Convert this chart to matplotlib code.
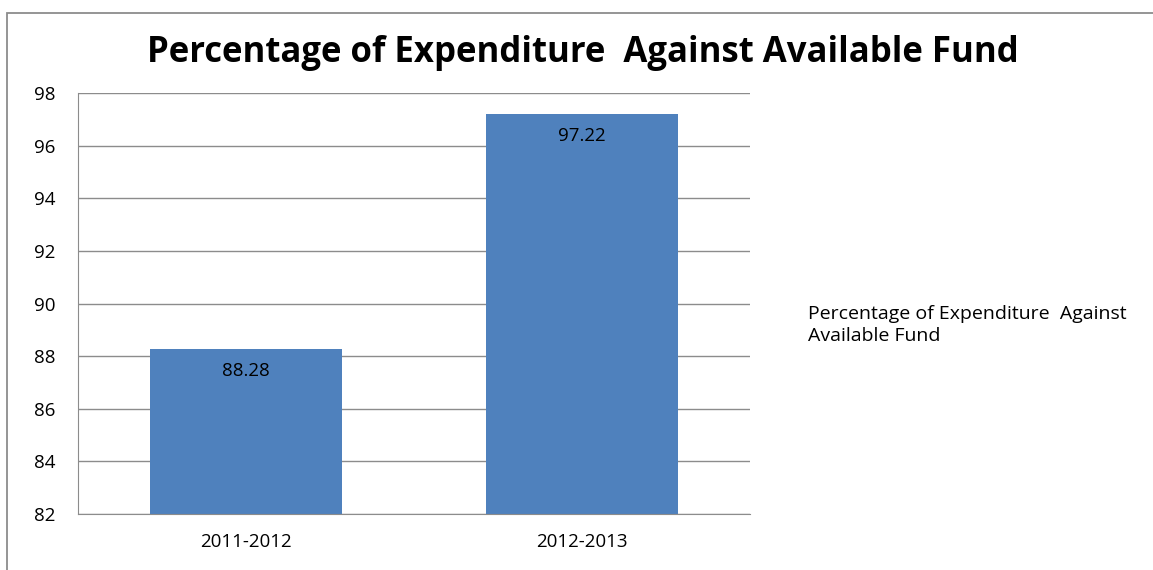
import matplotlib.pyplot as plt
from matplotlib.patches import Rectangle

years = ['2011-2012', '2012-2013']
pct_spent = [88.28, 97.22]
series_name = 'Percentage of Expenditure  Against\nAvailable Fund'

plt.rcParams['font.family'] = ['Open Sans', 'DejaVu Sans']

fig = plt.figure(figsize=(11.53, 5.70), dpi=100)
ax = fig.add_axes([0.0677, 0.0982, 0.5828, 0.7386])

# outer chart frame (only top and left show in the crop)
fig.patches.append(Rectangle((7/1153, -0.05), 1.1, 1 - 12.5/570 + 0.05, transform=fig.transFigure,
                             fill=False, edgecolor='#8c8c8c', linewidth=1.3))

xx = range(len(years))
bars = ax.bar(xx, pct_spent, width=0.571, color='#4f81bd', zorder=3, bottom=0)
for x, v in zip(xx, pct_spent):
	ax.annotate('%.2f' % v, xy=(x, v), xytext=(0, -16), textcoords='offset points',
	            ha='center', va='center', fontsize=13.5, color='black', zorder=4)

ax.set_ylim(82, 98)
ax.set_xlim(-0.5, 1.5)
ax.set_yticks(range(82, 99, 2))
ax.set_xticks(list(xx))
ax.set_xticklabels(years)
ax.tick_params(axis='both', length=0, labelsize=13.5)
ax.tick_params(axis='x', pad=14)
ax.tick_params(axis='y', pad=16)
ax.yaxis.grid(True, color='#8c8c8c', linewidth=1.0, zorder=0)
for s in ['top', 'right']:
	ax.spines[s].set_visible(False)
for s in ['left', 'bottom']:
	ax.spines[s].set_color('#8c8c8c')
	ax.spines[s].set_zorder(5)

fig.text(0.5054, 1 - 53/570, 'Percentage of Expenditure  Against Available Fund', ha='center', va='center',
         fontsize=25, fontweight='bold')
fig.text(808/1153, 1 - 325/570, series_name, ha='left', va='center', fontsize=14, linespacing=1.25)

fig.savefig('out.png', dpi=100)
